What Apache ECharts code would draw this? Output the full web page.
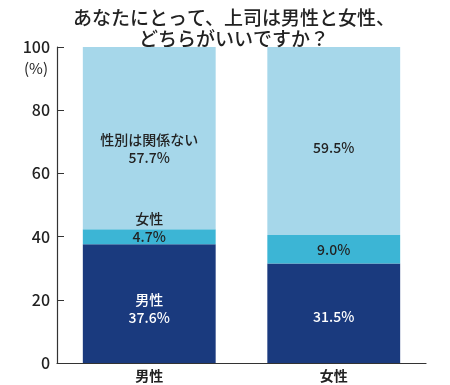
<!DOCTYPE html>
<html><head><meta charset="utf-8">
<script src="https://cdn.jsdelivr.net/npm/echarts@6/dist/echarts.min.js"></script>
<style>html,body{margin:0;padding:0;background:#fff}#c{width:450px;height:385px}</style>
</head><body><div id="c"></div>
<script>
const categories = ['男性', '女性'];
const maleBoss = [37.6, 31.5];
const femaleBoss = [4.7, 9.0];
const noMatter = [57.7, 59.5];
const yTicks = [0, 20, 40, 60, 80, 100];

const FONT = '"Noto Sans CJK JP", "Noto Sans", sans-serif';
const chart = echarts.init(document.getElementById('c'));
chart.setOption({
  animation: false,
  textStyle: { fontFamily: FONT },
  title: {
    text: 'あなたにとって、上司は男性と女性、\nどちらがいいですか？',
    left: 229, top: 2, textAlign: 'center',
    textStyle: { fontSize: 19, lineHeight: 21, fontWeight: 500, color: '#222', fontFamily: FONT }
  },
  graphic: [{ type: 'text', left: 24, top: 61, style: { text: '(%)', fontSize: 15, fill: '#222', fontFamily: FONT } }],
  grid: { left: 57, right: 24, top: 47, bottom: 22 },
  xAxis: {
    type: 'category', data: categories,
    axisLine: { lineStyle: { color: '#333', width: 1.2 } },
    axisTick: { inside: true, length: 6, lineStyle: { color: '#333' } },
    axisLabel: { fontSize: 14, color: '#222', margin: 6, fontWeight: 'bold', fontFamily: FONT }
  },
  yAxis: {
    type: 'value', min: yTicks[0], max: yTicks[yTicks.length - 1], interval: 20,
    splitLine: { show: false },
    axisLine: { show: true, lineStyle: { color: '#333', width: 1.2 } },
    axisTick: { show: true, inside: true, length: 7, lineStyle: { color: '#333' } },
    axisLabel: { fontSize: 16, color: '#222', margin: 7, fontWeight: 500, fontFamily: FONT }
  },
  series: [
    {
      type: 'bar', stack: 'a', barWidth: '72%',
      itemStyle: { color: '#1a3a7e' },
      data: [
        { value: maleBoss[0], label: { show: true, position: 'inside', offset: [0, 5], formatter: categories[0] + '\n' + maleBoss[0].toFixed(1) + '%' } },
        { value: maleBoss[1], label: { show: true, position: 'inside', offset: [0, 3], formatter: maleBoss[1].toFixed(1) + '%' } }
      ],
      label: { color: '#fff', fontSize: 14, lineHeight: 18, fontWeight: 500, fontFamily: FONT }
    },
    {
      type: 'bar', stack: 'a',
      itemStyle: { color: '#3cb5d5' },
      data: [
        { value: femaleBoss[0], label: { show: true, position: 'inside', offset: [0, -9], formatter: categories[1] + '\n' + femaleBoss[0].toFixed(1) + '%' } },
        { value: femaleBoss[1], label: { show: true, position: 'inside', offset: [0, 0], formatter: femaleBoss[1].toFixed(1) + '%' } }
      ],
      label: { color: '#222', fontSize: 14, lineHeight: 18, fontWeight: 500, fontFamily: FONT }
    },
    {
      type: 'bar', stack: 'a',
      itemStyle: { color: '#a6d7ea' },
      data: [
        { value: noMatter[0], label: { show: true, position: 'inside', offset: [0, 11], formatter: '性別は関係ない\n' + noMatter[0].toFixed(1) + '%' } },
        { value: noMatter[1], label: { show: true, position: 'inside', offset: [0, 7], formatter: noMatter[1].toFixed(1) + '%' } }
      ],
      label: { color: '#222', fontSize: 14, lineHeight: 18, fontWeight: 500, fontFamily: FONT }
    }
  ]
});
</script></body></html>
